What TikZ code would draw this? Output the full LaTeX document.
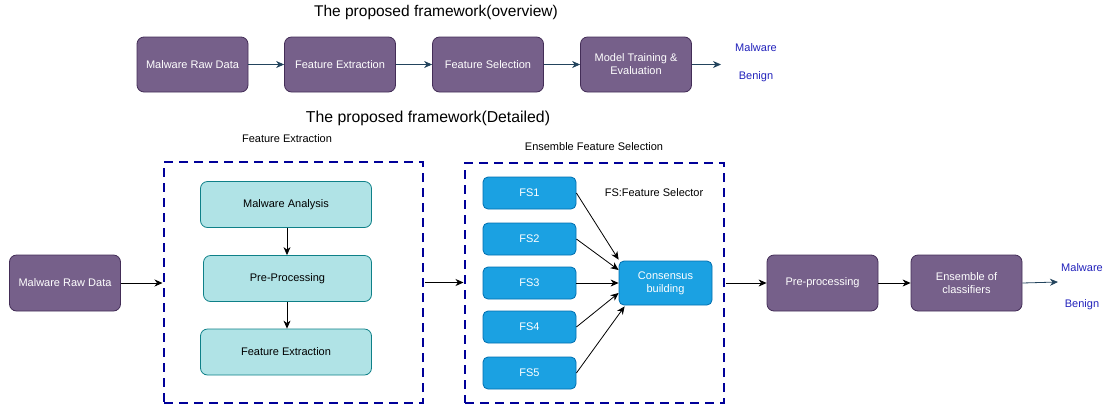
\documentclass[tikz,border=0pt]{standalone}
\usepackage{fontspec}
\setmainfont{Liberation Sans}
\usetikzlibrary{arrows.meta,calc}
\definecolor{purp}{HTML}{76608A}
\definecolor{purpline}{HTML}{432D57}
\definecolor{tealf}{HTML}{B0E3E6}
\definecolor{teald}{HTML}{0E8088}
\definecolor{fsf}{HTML}{1BA1E2}
\definecolor{fsd}{HTML}{006EAF}
\definecolor{dblue}{HTML}{000099}
\definecolor{lblue}{HTML}{2222BB}
\definecolor{slate}{HTML}{23445D}
\begin{document}
\begin{tikzpicture}[x=1pt,y=-1pt,
  box/.style={rounded corners=7pt, draw, line width=0.8pt, inner sep=0pt, align=center, font=\fontsize{11}{13}\selectfont},
  purplebox/.style={box, fill=purp, draw=purpline, text=white, minimum width=111pt, minimum height=56pt},
  tealbox/.style={box, fill=tealf, draw=teald, text=black, minimum height=46pt},
  fsbox/.style={box, fill=fsf, draw=fsd, text=white, rounded corners=5pt, minimum width=93pt, minimum height=32pt},
  arr/.style={-{Stealth[length=8pt,width=7pt,inset=2.5pt]}, line width=0.8pt},
  dashbox/.style={draw=dblue, line width=2.6pt, dash pattern=on 9pt off 6pt, inner sep=0pt, outer sep=0pt},
  outtext/.style={text=lblue, font=\fontsize{11}{13}\selectfont},
  caption/.style={font=\fontsize{11}{13}\selectfont},
  title/.style={font=\fontsize{15.5}{18}\selectfont}
]
\useasboundingbox (0,0) rectangle (1105,405);

% ---------- overview ----------
\node[title] (t1) at (436,12) {The proposed framework(overview)};
\node[purplebox, minimum height=55pt] (o1) at (192.5,64.5) {Malware Raw Data};
\node[purplebox, minimum height=55pt] (o2) at (340,64.5) {Feature Extraction};
\node[purplebox, minimum height=55pt] (o3) at (488,64.5) {Feature Selection};
\node[purplebox, minimum height=55pt] (o4) at (636,64.5) {Model Training \&\\Evaluation};
\coordinate (oend) at (721,64.5);
\node[outtext] (om) at (756,48) {Malware};
\node[outtext] (ob) at (756,77) {Benign};
\draw[arr, slate] (o1) -- (o2);
\draw[arr, slate] (o2) -- (o3);
\draw[arr, slate] (o3) -- (o4);
\draw[arr, slate] (o4) -- (oend);

% ---------- detailed ----------
\node[title, font=\fontsize{15.8}{18}\selectfont] (t2) at (428,118) {The proposed framework(Detailed)};

\node[purplebox] (raw) at (65,283) {Malware Raw Data};

\node[caption] (fecap) at (287,139) {Feature Extraction};
\node[dashbox, minimum width=259pt, minimum height=241pt] (febox) at (293.5,282.5) {};
\node[tealbox, minimum width=171pt] (ma) at (286,204.5) {Malware Analysis};
\node[tealbox, minimum width=168pt] (pp) at (287.5,278.5) {Pre-Processing};
\node[tealbox, minimum width=171pt] (fe) at (286,352) {Feature Extraction};
\draw[arr] (ma.south -| 287,0) -- (pp.north -| 287,0);
\draw[arr] (pp.south -| 287,0) -- (fe.north -| 287,0);

\node[caption] (fscap) at (594,147) {Ensemble Feature Selection};
\node[dashbox, minimum width=259pt, minimum height=240pt] (selbox) at (594.5,283) {};
\node[fsbox] (fs1) at (529.5,193) {FS1};
\node[fsbox] (fs2) at (529.5,239) {FS2};
\node[fsbox] (fs3) at (529.5,283) {FS3};
\node[fsbox] (fs4) at (529.5,327) {FS4};
\node[fsbox] (fs5) at (529.5,373) {FS5};
\node[fsbox, minimum height=44pt] (cons) at (665.5,283) {Consensus\\building};
\node[caption] (fslegend) at (654,193) {FS:Feature Selector};

\draw[arr] (fs1.east) -- ($(cons.north west)+(0,-1)$);
\draw[arr] (fs2.east) -- ($(cons.west)+(0,-13)$);
\draw[arr] (fs3.east) -- (cons.west);
\draw[arr] (fs4.east) -- ($(cons.west)+(0,10)$);
\draw[arr] (fs5.east) -- ($(cons.south west)+(6,1)$);

\node[purplebox] (pre) at (822.5,283) {Pre-processing};
\node[purplebox] (ens) at (966.5,283) {Ensemble of\\classifiers};
\coordinate (bend) at (1058,282);
\node[outtext] (bm) at (1082,268) {Malware};
\node[outtext] (bb) at (1082,305) {Benign};

\coordinate (feW) at ($(febox.west)+(-1.5,0)$);
\coordinate (feE) at ($(febox.east)+(1.5,0)$);
\coordinate (selW) at ($(selbox.west)+(-1.5,0)$);
\coordinate (selE) at ($(selbox.east)+(1.5,0)$);
\draw[arr] (raw.east) -- (raw.east -| feW);
\draw[arr] (feE) -- (feE -| selW);
\draw[arr] (selE) -- (selE -| pre.west);
\draw[arr] (pre.east) -- (ens.west);
\draw[arr, slate] (ens.east) -- (bend);
\end{tikzpicture}
\end{document}
